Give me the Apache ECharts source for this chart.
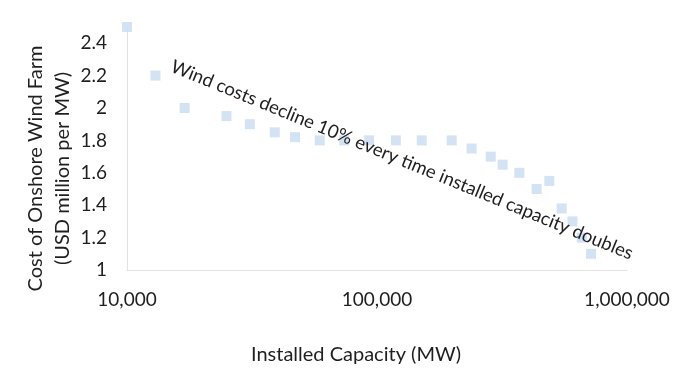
<!DOCTYPE html>
<html>
<head>
<meta charset="utf-8">
<script src="https://cdn.jsdelivr.net/npm/echarts@6/dist/echarts.min.js"></script>
<style>
html,body{margin:0;padding:0;background:#fff;}
#c{width:696px;height:381px;}
</style>
</head>
<body>
<div id="c"></div>
<script>
// Installed capacity (MW)
var capacity = [10000, 13000, 17000, 25000, 31000, 39000, 47000, 59000, 74000, 93000,
                119000, 151000, 199000, 239000, 285000, 318000, 371000, 435000, 489000,
                548000, 605000, 659000, 718000];
// Cost of onshore wind farm (USD million per MW)
var cost = [2.5, 2.2, 2.0, 1.95, 1.9, 1.85, 1.82, 1.8, 1.8, 1.8,
            1.8, 1.8, 1.8, 1.75, 1.7, 1.65, 1.6, 1.5, 1.55,
            1.38, 1.3, 1.2, 1.1];
var xTicks = [10000, 100000, 1000000];
var yTicks = [1, 1.2, 1.4, 1.6, 1.8, 2, 2.2, 2.4];
var annotation = 'Wind costs decline 10% every time installed capacity doubles';
var xTitle = 'Installed Capacity (MW)';
var yTitle = 'Cost of Onshore Wind Farm\n(USD million per MW)';

var FONT = 'Lato, "Open Sans", sans-serif';
var TXT = '#1f1f1f';
var chart = echarts.init(document.getElementById('c'), null, {renderer: 'canvas'});
var data = capacity.map(function (c, i) { return [c, cost[i]]; });

chart.setOption({
  animation: false,
  backgroundColor: '#ffffff',
  grid: {left: 127, right: 69, top: 27, bottom: 111},
  xAxis: {
    type: 'log',
    logBase: 10,
    min: xTicks[0],
    max: xTicks[xTicks.length - 1],
    name: xTitle,
    nameLocation: 'middle',
    nameGap: 75,
    nameTextStyle: {fontFamily: FONT, fontSize: 20, color: TXT, padding: [0, 42, 0, 0]},
    axisLine: {show: true, lineStyle: {color: '#e3e3e3', width: 1}},
    axisTick: {show: false},
    splitLine: {show: false},
    axisLabel: {
      fontFamily: FONT, fontSize: 19, color: TXT, margin: 20,
      showMinLabel: true, showMaxLabel: true,
      formatter: function (v) {
        return xTicks.indexOf(Math.round(v)) >= 0 ? Math.round(v).toLocaleString('en-US') : '';
      }
    }
  },
  yAxis: {
    type: 'value',
    min: 1,
    max: 2.5,
    interval: 0.2,
    name: yTitle,
    nameLocation: 'middle',
    nameGap: 51,
    nameMoveOverlap: false,
    nameRotate: 90,
    nameTextStyle: {fontFamily: FONT, fontSize: 20, color: TXT, lineHeight: 27, padding: [0, 40, 0, 0]},
    axisLine: {show: true, lineStyle: {color: '#e3e3e3', width: 1}},
    axisTick: {show: false},
    splitLine: {show: false},
    axisLabel: {
      fontFamily: FONT, fontSize: 19, color: TXT, margin: 20,
      formatter: function (v) {
        var r = Math.round(v * 10) / 10;
        return yTicks.indexOf(r) >= 0 ? String(r) : '';
      }
    }
  },
  graphic: [{
    type: 'text',
    x: 402,
    y: 160,
    rotation: -22.3 * Math.PI / 180,
    style: {
      text: annotation,
      fontFamily: FONT,
      fontSize: 18.5,
      fill: TXT,
      align: 'center',
      verticalAlign: 'middle'
    },
    z: 10
  }],
  series: [{
    type: 'scatter',
    data: data,
    symbol: 'rect',
    symbolSize: 10,
    clip: false,
    itemStyle: {color: '#c9dcf0'}
  }]
});
</script>
</body>
</html>
